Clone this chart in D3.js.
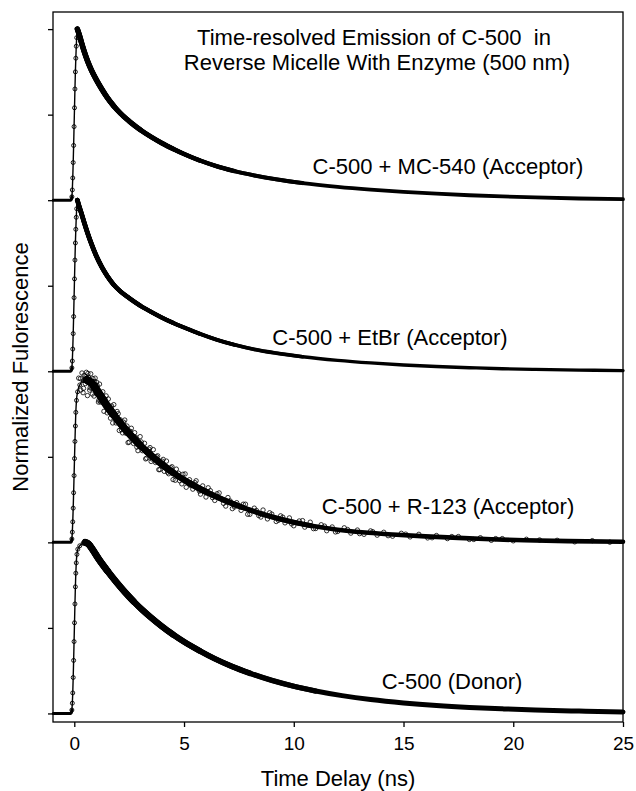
<!DOCTYPE html>
<html lang="en">
<head>
<meta charset="utf-8">
<title>Time-resolved Emission of C-500</title>
<script src="https://d3js.org/d3.v7.min.js"></script>
<style>
    body { margin: 0; background: #fff; }
    text { font-family: "Liberation Sans", Arial, sans-serif; fill: #000; }
</style>
</head>
<body>
<script>
    // ---- data: [time (ns), normalized intensity] ----
    var timeTicks = [0, 5, 10, 15, 20, 25];
    var levelTicks = [0, 0.5, 1, 1.5, 2, 2.5, 3, 3.5, 4];
    var titleLines = ["Time-resolved Emission of C-500  in", "Reverse Micelle With Enzyme (500 nm)"];
    var curveNames = ["C-500 + MC-540 (Acceptor)", "C-500 + EtBr (Acceptor)", "C-500 + R-123 (Acceptor)", "C-500 (Donor)"];
    var curveOffsets = [3, 2, 1, 0];

    var preTrigger = [[-0.96, 0], [-0.88, 0], [-0.8, 0], [-0.72, 0], [-0.64, 0], [-0.56, 0], [-0.48, 0],
        [-0.4, 0], [-0.32, 0], [-0.24, 0], [-0.17, 0], [-0.13, 0.005]];

    var mc540 = [[-0.11, 0.02], [-0.09, 0.06], [-0.07, 0.13], [-0.05, 0.22], [-0.03, 0.32], [-0.01, 0.43],
        [0.01, 0.54], [0.03, 0.65], [0.05, 0.75], [0.07, 0.83], [0.09, 0.9], [0.11, 0.95], [0.14, 1.0],
        [0.22, 0.97], [0.32, 0.925], [0.45, 0.87], [0.6, 0.815], [0.78, 0.76], [1.0, 0.705], [1.25, 0.65],
        [1.5, 0.6], [1.8, 0.55], [2.1, 0.508], [2.5, 0.462], [3.0, 0.412], [3.5, 0.37], [4.0, 0.333],
        [4.5, 0.3], [5.0, 0.27], [5.7, 0.233], [6.5, 0.198], [7.3, 0.17], [8.2, 0.145], [9.2, 0.122],
        [10.4, 0.1], [12, 0.078], [13.5, 0.062], [15, 0.049], [16.5, 0.038], [18, 0.029], [19.5, 0.022],
        [21, 0.016], [23, 0.01], [25, 0.006]];

    var etbr = [[-0.11, 0.02], [-0.09, 0.06], [-0.07, 0.13], [-0.05, 0.22], [-0.03, 0.32], [-0.01, 0.43],
        [0.01, 0.54], [0.03, 0.65], [0.05, 0.75], [0.07, 0.83], [0.09, 0.9], [0.11, 0.95], [0.14, 1.0],
        [0.22, 0.965], [0.32, 0.925], [0.45, 0.87], [0.6, 0.81], [0.78, 0.745], [1.0, 0.675], [1.25, 0.61],
        [1.5, 0.557], [1.8, 0.505], [2.1, 0.467], [2.5, 0.428], [3.0, 0.384], [3.5, 0.347], [4.0, 0.313],
        [4.5, 0.283], [5.0, 0.256], [5.7, 0.22], [6.5, 0.184], [7.3, 0.155], [8.2, 0.128], [9.2, 0.106],
        [10.4, 0.085], [12, 0.064], [13.5, 0.049], [15, 0.037], [16.5, 0.028], [18, 0.021], [19.5, 0.015],
        [21, 0.011], [23, 0.007], [25, 0.004]];

    var r123 = [[-0.11, 0.02], [-0.09, 0.06], [-0.07, 0.12], [-0.05, 0.2], [-0.03, 0.29], [-0.01, 0.39],
        [0.01, 0.49], [0.03, 0.59], [0.05, 0.68], [0.07, 0.76], [0.1, 0.83], [0.15, 0.88], [0.25, 0.92],
        [0.4, 0.945], [0.57, 0.95], [0.8, 0.93], [1.1, 0.875], [1.4, 0.815], [1.8, 0.745], [2.2, 0.68],
        [2.6, 0.622], [3.0, 0.568], [3.5, 0.508], [4.0, 0.455], [4.5, 0.407], [5.2, 0.35], [6.0, 0.295],
        [6.8, 0.248], [7.6, 0.207], [8.4, 0.172], [9.2, 0.142], [10.0, 0.117], [10.8, 0.097], [11.6, 0.081],
        [12.4, 0.068], [13.4, 0.056], [14.5, 0.046], [16, 0.035], [17.5, 0.026], [19, 0.018], [20.5, 0.012],
        [22.5, 0.007], [25, 0.004]];

    // noisy points that stray off the R-123 band
    var r123Scatter = [[0.2, 0.96], [0.3, 0.89], [0.35, 0.99], [0.4, 0.875], [0.45, 0.976], [0.5, 0.928],
        [0.55, 0.994], [0.6, 0.858], [0.65, 0.965], [0.7, 0.89], [0.75, 0.985], [0.8, 0.9], [0.85, 0.957],
        [0.9, 0.855], [0.95, 0.96], [1.0, 0.87], [1.05, 0.915], [1.1, 0.82], [1.15, 0.925], [1.2, 0.82],
        [1.3, 0.88], [1.35, 0.766], [1.4, 0.836], [1.5, 0.757], [1.55, 0.838], [1.6, 0.765], [1.7, 0.797],
        [1.75, 0.698], [1.8, 0.805], [1.9, 0.698], [2.0, 0.752], [2.05, 0.654], [2.1, 0.716], [2.2, 0.64],
        [2.3, 0.715], [2.35, 0.638], [2.4, 0.68], [2.5, 0.586], [2.6, 0.667], [2.7, 0.578], [2.8, 0.614],
        [2.9, 0.536], [3.0, 0.618], [3.1, 0.536], [3.2, 0.579], [3.3, 0.492], [3.4, 0.545], [3.5, 0.473],
        [3.6, 0.542], [3.7, 0.467], [3.8, 0.506], [3.9, 0.425], [4.0, 0.475], [4.1, 0.415], [4.2, 0.475],
        [4.3, 0.401], [4.4, 0.436], [4.5, 0.367], [4.65, 0.428], [4.8, 0.36], [4.95, 0.398], [5.1, 0.322],
        [5.25, 0.366], [5.4, 0.311], [5.55, 0.36], [5.7, 0.3], [5.85, 0.33], [6.0, 0.265], [6.2, 0.302],
        [6.4, 0.245], [6.6, 0.289], [6.8, 0.228], [7.0, 0.262], [7.2, 0.197], [7.4, 0.232], [7.6, 0.187],
        [7.8, 0.223], [8.0, 0.164], [8.2, 0.2], [8.4, 0.157], [8.6, 0.189], [8.8, 0.137], [9.0, 0.165],
        [9.2, 0.122], [9.4, 0.155], [9.6, 0.114], [9.8, 0.143], [10.0, 0.097], [10.25, 0.125], [10.5, 0.089],
        [10.75, 0.118], [11.0, 0.081], [11.25, 0.103], [11.5, 0.068], [11.75, 0.09], [12.0, 0.064],
        [12.3, 0.085], [12.6, 0.054], [12.9, 0.072], [13.2, 0.047], [13.5, 0.067], [13.8, 0.042],
        [14.1, 0.059], [14.5, 0.036], [14.9, 0.053], [15.3, 0.032], [15.7, 0.047], [16.1, 0.026],
        [16.5, 0.04], [17.0, 0.022], [17.5, 0.034], [18.0, 0.017], [18.5, 0.027], [19.0, 0.012],
        [19.5, 0.022], [20, 0.009], [20.6, 0.018], [21.2, 0.014],
        [0.28, 0.957], [0.42, 0.9], [0.52, 0.968], [0.62, 0.987], [0.72, 0.903], [0.82, 0.867],
        [0.92, 0.941], [1.02, 0.936], [1.12, 0.831], [1.25, 0.825], [1.45, 0.856], [1.65, 0.726],
        [1.85, 0.751], [1.95, 0.765], [2.15, 0.658], [2.25, 0.702], [2.45, 0.583], [2.55, 0.649],
        [2.75, 0.641], [2.85, 0.557], [3.05, 0.587], [3.25, 0.488], [3.45, 0.554], [3.55, 0.487],
        [3.75, 0.501], [3.85, 0.425], [4.05, 0.485], [4.25, 0.41], [4.45, 0.442], [4.6, 0.363],
        [4.75, 0.404], [4.9, 0.342], [5.05, 0.4], [5.3, 0.333], [5.5, 0.349], [5.75, 0.282],
        [6.1, 0.319], [6.3, 0.261], [6.5, 0.284], [6.9, 0.212], [7.1, 0.242], [7.3, 0.207],
        [7.7, 0.223], [7.9, 0.164], [8.3, 0.186], [8.5, 0.148], [8.9, 0.173], [9.3, 0.129],
        [9.5, 0.147], [9.9, 0.108], [10.4, 0.127], [10.9, 0.08], [11.4, 0.095], [11.9, 0.061],
        [12.45, 0.075], [13.0, 0.051], [13.6, 0.062], [14.3, 0.039], [15.1, 0.048], [16.3, 0.027],
        [17.2, 0.034], [18.2, 0.017], [19.2, 0.022], [22, 0.012], [22.8, 0.003], [23.6, 0.01],
        [24.4, 0.001]];

    var donor = [[-0.11, 0.02], [-0.09, 0.06], [-0.07, 0.12], [-0.05, 0.21], [-0.03, 0.31], [-0.01, 0.42],
        [0.01, 0.53], [0.03, 0.64], [0.05, 0.74], [0.07, 0.82], [0.09, 0.88], [0.12, 0.93], [0.16, 0.96],
        [0.25, 0.98], [0.4, 0.995], [0.5, 1.0], [0.65, 0.99], [0.85, 0.955], [1.1, 0.905], [1.5, 0.835],
        [1.9, 0.77], [2.3, 0.71], [2.7, 0.655], [3.1, 0.605], [3.5, 0.56], [4.0, 0.508], [4.5, 0.461],
        [5.0, 0.419], [5.7, 0.367], [6.4, 0.32], [7.2, 0.274], [8.0, 0.235], [9.0, 0.193], [10.0, 0.159],
        [11.0, 0.131], [12.2, 0.104], [13.5, 0.081], [15, 0.061], [16.5, 0.046], [18, 0.035], [19.5, 0.027],
        [21, 0.02], [23, 0.014], [25, 0.009]];

    var curves = [mc540, etbr, r123, donor];

    // ---- layout ----
    var outerWidth = 636;
    var outerHeight = 791;
    var plot = { left: 53, top: 12, right: 623, bottom: 722 };
    var headWidths = [5.5, 4.8, 8, 7];   // band thickness near the peak
    var tailWidths = [3.8, 3.4, 4.6, 5];
    var taperCuts = [11, 8, 6, 4.5, 3, 1.8];
    var labelAt = [[448, 174], [390, 345], [448, 514], [452, 689]];

    var svg = d3.select("body")
        .append("svg")
        .attr("width", outerWidth)
        .attr("height", outerHeight);

    var xScale = d3.scaleLinear().domain([-0.97, 25]).range([plot.left, plot.right]);
    var yScale = d3.scaleLinear().domain([-0.05, 4.1]).range([plot.bottom, plot.top]);

    // frame
    svg.append("rect")
        .attr("x", plot.left)
        .attr("y", plot.top)
        .attr("width", plot.right - plot.left)
        .attr("height", plot.bottom - plot.top)
        .attr("fill", "none")
        .attr("stroke", "#000")
        .attr("stroke-width", 1.3);

    var xAxis = svg.append("g")
        .attr("transform", "translate(0," + plot.bottom + ")")
        .call(d3.axisBottom(xScale).tickValues(timeTicks).tickSize(5).tickPadding(10));
    xAxis.select(".domain").remove();
    xAxis.selectAll("line").attr("stroke-width", 1.3);
    xAxis.selectAll("text").attr("font-size", 19).attr("font-family", null);

    var yAxis = svg.append("g")
        .attr("transform", "translate(" + plot.left + ",0)")
        .call(d3.axisLeft(yScale).tickValues(levelTicks).tickSize(5).tickFormat(""));
    yAxis.select(".domain").remove();
    yAxis.selectAll("line").attr("stroke-width", 1.3);

    // curves
    var line = d3.line()
        .x(function (d) { return xScale(d[0]); })
        .y(function (d) { return yScale(d[1]); })
        .curve(d3.curveMonotoneX);

    var g = svg.append("g");

    function drawPath(pts, w) {
        g.append("path")
            .attr("d", line(pts))
            .attr("fill", "none")
            .attr("stroke", "#000")
            .attr("stroke-width", w)
            .attr("stroke-linejoin", "round")
            .attr("stroke-linecap", "round");
    }

    curves.forEach(function (c, i) {
        var off = curveOffsets[i];
        var pts = preTrigger.concat(c).map(function (d) { return [d[0], d[1] + off]; });
        var peak = d3.maxIndex(pts, function (d) { return d[1]; });
        var decay = pts.slice(peak);

        drawPath(pts, 1.4);
        drawPath(pts.filter(function (d) { return d[0] < -0.1; }), 3);

        // band gets gradually thinner towards the tail
        drawPath(decay, tailWidths[i]);
        taperCuts.forEach(function (cut, k) {
            var w = tailWidths[i] + (headWidths[i] - tailWidths[i]) * (k + 1) / taperCuts.length;
            drawPath(decay.filter(function (d) { return d[0] <= cut; }), w);
        });

        // open markers along the rising edge
        g.selectAll(null)
            .data(pts.slice(0, peak + 1).filter(function (d) { return d[0] > -0.12; }))
            .enter().append("circle")
            .attr("cx", function (d) { return xScale(d[0]); })
            .attr("cy", function (d) { return yScale(d[1]); })
            .attr("r", 2)
            .attr("fill", "none")
            .attr("stroke", "#000")
            .attr("stroke-width", 0.9);
    });

    g.selectAll(null)
        .data(r123Scatter)
        .enter().append("circle")
        .attr("cx", function (d) { return xScale(d[0]); })
        .attr("cy", function (d) { return yScale(d[1] + curveOffsets[2]); })
        .attr("r", 2.2)
        .attr("fill", "none")
        .attr("stroke", "#000")
        .attr("stroke-width", 0.8);

    // labels
    svg.selectAll(".curve-label")
        .data(curveNames)
        .enter().append("text")
        .attr("class", "curve-label")
        .attr("x", function (d, i) { return labelAt[i][0]; })
        .attr("y", function (d, i) { return labelAt[i][1]; })
        .attr("text-anchor", "middle")
        .attr("font-size", 22)
        .text(function (d) { return d; });

    svg.selectAll(".title")
        .data(titleLines)
        .enter().append("text")
        .attr("class", "title")
        .attr("x", function (d, i) { return i === 0 ? 374 : 377; })
        .attr("y", function (d, i) { return 45 + i * 25; })
        .attr("text-anchor", "middle")
        .attr("font-size", 22)
        .style("white-space", "pre")
        .text(function (d) { return d; });

    svg.append("text")
        .attr("x", (plot.left + plot.right) / 2)
        .attr("y", 786)
        .attr("text-anchor", "middle")
        .attr("font-size", 22)
        .text("Time Delay (ns)");

    svg.append("text")
        .attr("transform", "translate(28," + 367 + ") rotate(-90)")
        .attr("text-anchor", "middle")
        .attr("font-size", 22)
        .text("Normalized Fulorescence");
</script>
</body>
</html>
